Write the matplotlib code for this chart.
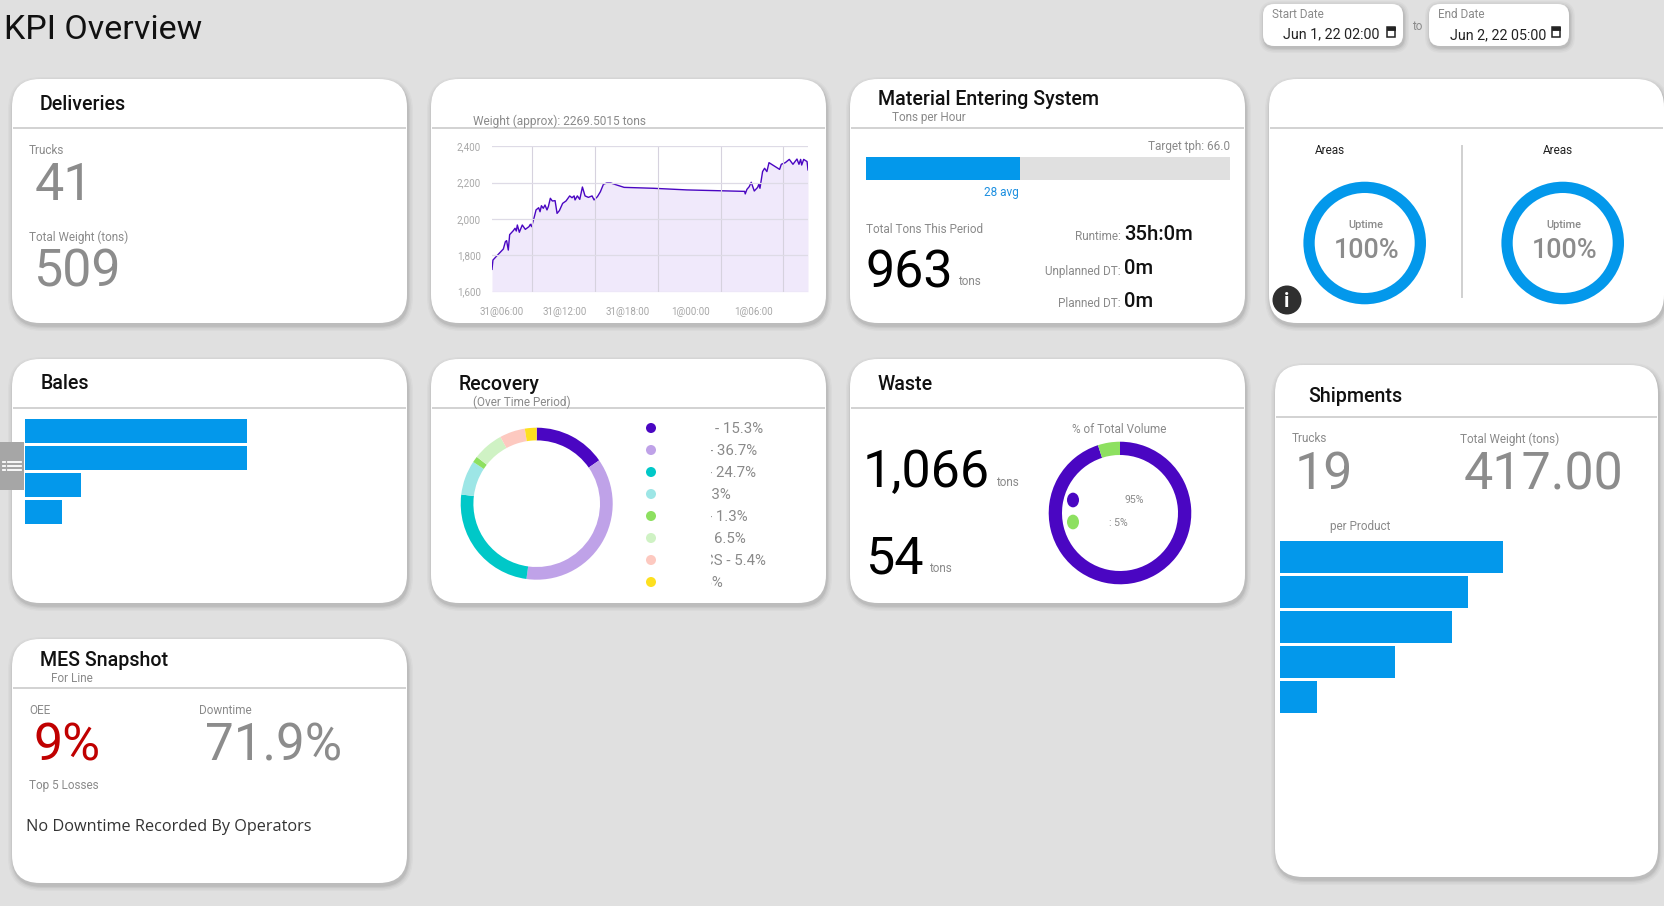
import matplotlib
matplotlib.use("Agg")
import matplotlib.pyplot as plt
from matplotlib.patches import FancyBboxPatch, Rectangle, Circle, Ellipse

W, H = 1664, 906
BG = "#e0e0e0"
BLUE = "#0398eb"
PURPLE = "#4a06c2"
GREY = "#8c8c8c"
LABEL = "#8a8a8a"
plt.rcParams["font.family"] = ["Roboto", "DejaVu Sans"]

# weight over time, hours after 31@06:00
weight_hours = [-0.92, -0.83, -0.48, 0.16, 0.35, 0.47, 0.63, 0.76, 1.11, 1.27, 1.39, 1.49, 1.68, 1.96, 2.25,
                2.6, 2.73, 2.85, 3.11, 3.27, 3.52, 3.65, 3.78, 3.96, 4.12, 4.31, 4.44, 4.63, 4.82, 5.08,
                5.27, 5.49, 5.8, 6.12, 6.47, 6.69, 6.89, 6.98, 7.2, 7.43, 7.68, 7.93, 8.25, 8.6, 8.79,
                9.11, 9.39, 9.68, 10.0, 10.38, 10.95, 11.65, 14.44, 17.62, 23.11, 23.17, 23.33, 23.55, 23.74,
                24.03, 24.35, 24.47, 24.57, 24.82, 25.01, 25.23, 25.43, 26.44, 26.6, 26.98, 27.36, 27.71,
                28.09, 28.28, 28.44, 28.54, 28.73, 29.05, 29.14]
weight_tons = [1723, 1774, 1796, 1835, 1875, 1881, 1829, 1914, 1936, 1949, 1934, 1967, 1927, 1967, 1943,
               1958, 1971, 1958, 2013, 2050, 2062, 2040, 2073, 2059, 2077, 2050, 2068, 2114, 2099, 2101,
               2031, 2046, 2086, 2099, 2127, 2117, 2127, 2105, 2127, 2108, 2176, 2127, 2119, 2127, 2105,
               2123, 2150, 2191, 2198, 2198, 2187, 2174, 2169, 2160, 2152, 2138, 2163, 2178, 2202,
               2154, 2174, 2193, 2169, 2261, 2279, 2261, 2310, 2273, 2301, 2310, 2328, 2301,
               2330, 2301, 2328, 2297, 2328, 2316, 2270]
weight_yticks = [1600, 1800, 2000, 2200, 2400]
weight_xticks = [0, 6, 12, 18, 24]
weight_xlabels = ["31@06:00", "31@12:00", "31@18:00", "1@00:00", "1@06:00"]
weight_grid_x = [2.9, 8.9, 14.9, 20.9, 26.8]

tph_avg = 28
tph_target = 66.0

bales_values = [120, 120, 30.3, 20]
shipment_values = [126.5, 106.7, 97.6, 65.2, 21.0]

recovery_values = [15.3, 36.7, 24.7, 7.3, 1.3, 6.5, 5.4, 2.5]
recovery_labels = ["- 15.3%", "- 36.7%", "- 24.7%", "7.3%", "- 1.3%", "6.5%", "CS - 5.4%", "2.5%"]
recovery_colors = ["#4a06c2", "#bfa2e8", "#00c8c8", "#9de6e6", "#8de060", "#cff2c4", "#fdc9c0", "#fde01f"]
recovery_right = [763, 757, 756, 731, 748, 746, 766, 723]

waste_values = [95, 5]
waste_colors = [PURPLE, "#8de060"]
uptime_values = [100]


fig = plt.figure(figsize=(W / 100, H / 100), dpi=100, facecolor=BG)


def overlay(z):
    a = fig.add_axes([0, 0, 1, 1], zorder=z)
    a.set_xlim(0, W)
    a.set_ylim(H, 0)
    a.axis("off")
    return a


def inset(x0, y0, x1, y1):
    a = fig.add_axes([x0 / W, 1 - y1 / H, (x1 - x0) / W, (y1 - y0) / H], zorder=1)
    a.patch.set_alpha(0)
    return a


bg = overlay(0)
fg = overlay(2)


def txt(x, y, s, px, color=LABEL, ha="left", **kw):
    # va center sits high because of the descender box, push it back down
    return fg.text(x, y + px * 0.08, s, fontsize=px * 0.72, color=color, ha=ha, va="center", **kw)


def rounded(x0, y0, x1, y1, r, lift=3):
    for grow, alpha in [(5, 0.025), (3.5, 0.035), (2, 0.045), (0.8, 0.06)]:
        bg.add_patch(FancyBboxPatch((x0 - grow + 1, y0 - grow + lift), x1 - x0 + 2 * grow, y1 - y0 + 2 * grow,
                                    boxstyle=f"round,pad=0,rounding_size={r + grow}",
                                    fc="black", ec="none", alpha=alpha))
    bg.add_patch(FancyBboxPatch((x0, y0), x1 - x0, y1 - y0, boxstyle=f"round,pad=0,rounding_size={r}",
                                fc="white", ec="none"))


def card(x0, y0, x1, y1, line_y):
    rounded(x0, y0, x1, y1, 28)
    bg.plot([x0 + 1, x1 - 1], [line_y, line_y], color="#cfcfcf", lw=1.3, solid_capstyle="butt")


def donut(cx, cy, r_out, r_in, values, colors):
    a = inset(cx - r_out, cy - r_out, cx + r_out, cy + r_out)
    a.pie(values, colors=colors, startangle=90, counterclock=False, radius=1,
          wedgeprops=dict(width=(r_out - r_in) / r_out, linewidth=0))
    a.set_xlim(-1, 1)
    a.set_ylim(-1, 1)


def hbars(x0, y0, width_px, values, px_per_unit, bar_h, pitch):
    n = len(values)
    a = inset(x0, y0, x0 + width_px, y0 + (n - 1) * pitch + bar_h)
    half = bar_h / pitch / 2
    a.barh(range(n), values, height=bar_h / pitch, color=BLUE)
    a.set_xlim(0, width_px / px_per_unit)
    a.set_ylim(n - 1 + half, -half)
    a.axis("off")


card(12, 79, 407, 323, 128)
card(431, 79, 826, 323, 128)
card(850, 79, 1245, 323, 128)
card(1269, 79, 1664, 323, 128)
card(12, 359, 407, 603, 408)
card(431, 359, 826, 603, 408)
card(850, 359, 1245, 603, 408)
card(1275, 365, 1658, 877, 417)
card(12, 639, 407, 883, 688)

TITLE_PX = 19.6
NUM_PX = 52
LABEL_PX = 11.7

# header
txt(4, 27, "KPI Overview", 34, "#111111")
rounded(1263, 4, 1403, 46, 11, lift=2)
rounded(1429, 4, 1569, 46, 11, lift=2)
txt(1272, 14, "Start Date", LABEL_PX)
txt(1283, 33, "Jun 1, 22 02:00", 14.3, "#222222")
txt(1417, 26, "to", LABEL_PX, ha="center")
txt(1438, 14, "End Date", LABEL_PX)
txt(1450, 34, "Jun 2, 22 05:00", 14.3, "#222222")
for ix, iy in [(1391, 32), (1556, 32)]:
    fg.add_patch(Rectangle((ix - 4, iy - 5), 8, 10, fc="white", ec="#222222", lw=1.1))
    fg.add_patch(Rectangle((ix - 4, iy - 5), 8, 2.5, fc="#222222", ec="#222222", lw=0.6))

# deliveries
txt(40, 103, "Deliveries", TITLE_PX, "#111111", weight="medium")
txt(29, 150, "Trucks", LABEL_PX)
txt(35, 182, "41", NUM_PX, GREY)
txt(29, 236, "Total Weight (tons)", LABEL_PX)
txt(33, 268, "509", NUM_PX, GREY)

# weight chart
txt(473, 120, "Weight (approx): 2269.5015 tons", LABEL_PX + 0.2)
ax = inset(492, 146.3, 808, 291.7)
ax.fill_between(weight_hours, weight_tons, 1600, color="#f0e9fb", lw=0)
ax.plot(weight_hours, weight_tons, color=PURPLE, lw=1.0)
ax.set_xlim(-0.92, 29.14)
ax.set_ylim(1600, 2400)
ax.set_yticks(weight_yticks)
ax.set_yticklabels([f"{v:,}" for v in weight_yticks])
ax.set_xticks(weight_xticks)
ax.set_xticklabels(weight_xlabels)
ax.set_xticks(weight_grid_x, minor=True)
ax.tick_params(axis="both", which="both", length=0, labelsize=7.1, labelcolor="#a8a8a8")
ax.tick_params(axis="x", pad=11)
ax.tick_params(axis="y", pad=8)
ax.grid(axis="y", color="#dedbe6", lw=0.9)
ax.grid(axis="x", which="minor", color="#d6d2de", lw=0.8)
ax.set_axisbelow(False)
for s in ax.spines.values():
    s.set_visible(False)

# material entering system
txt(878, 98, "Material Entering System", TITLE_PX, "#111111", weight="medium")
txt(892, 117, "Tons per Hour", LABEL_PX)
txt(1230, 146, f"Target tph: {tph_target:.1f}", LABEL_PX, ha="right")
ax = inset(866, 157, 1230, 180)
ax.barh([0], [tph_target], height=1, color="#e0e0e0")
ax.barh([0], [tph_avg], height=1, color=BLUE)
ax.set_xlim(0, tph_target)
ax.set_ylim(-0.5, 0.5)
ax.axis("off")
txt(1019, 192, f"{tph_avg} avg", LABEL_PX, "#1c8fe0", ha="right")
txt(866, 229, "Total Tons This Period", LABEL_PX)
txt(865, 269, "963", NUM_PX, "#000000")
txt(958, 281, "tons", LABEL_PX)
for y_lab, y_val, lab, val in [(236, 233, "Runtime:", "35h:0m"), (271, 267, "Unplanned DT:", "0m"),
                               (303, 300, "Planned DT:", "0m")]:
    txt(1121, y_lab, lab, LABEL_PX, ha="right")
    txt(1124, y_val, val, 20.3, "#111111", weight="medium")

# uptime
for cx, lx in [(1364.7, 1330), (1562.7, 1558)]:
    txt(lx, 150, "Areas", LABEL_PX, "#222222", ha="center")
    donut(cx, 243, 61.3, 50, uptime_values, [BLUE])
    txt(cx + 1.5, 224, "Uptime", 11, ha="center", weight="medium")
    txt(cx + 1.5, 248, "100%", 27, GREY, ha="center", weight="medium")
fg.plot([1462, 1462], [146, 297], color="#d0d0d0", lw=1.4)
fg.add_patch(Circle((1287, 300), 14.5, fc="#2f2f2f", ec="none"))
txt(1287, 300, "i", 20, "white", ha="center", weight="bold")

# bales
txt(41, 382, "Bales", TITLE_PX, "#111111", weight="medium")
hbars(25, 419, 300, bales_values, 1.85, 23.7, 27)
fg.add_patch(Rectangle((0, 442), 24, 48, fc="#a6a6a6", ec="none"))
for ly in [462, 466, 470]:
    fg.plot([8, 21], [ly, ly], color="white", lw=1.3)
    fg.plot([3, 5], [ly, ly], color="white", lw=1.3)

# recovery
txt(459, 383, "Recovery", TITLE_PX, "#111111", weight="medium")
txt(473, 401, "(Over Time Period)", LABEL_PX)
donut(536.7, 503.7, 76, 63.3, recovery_values, recovery_colors)
clip = Rectangle((711, 415), 100, 180, transform=fg.transData)
for i, (lab, col, rx) in enumerate(zip(recovery_labels, recovery_colors, recovery_right)):
    y = 428 + i * 22
    fg.add_patch(Circle((651, y), 5, fc=col, ec="none"))
    t = txt(rx, y, lab, 15, ha="right")
    t.set_clip_path(clip)
    t.set_clip_on(True)

# waste
txt(878, 383, "Waste", TITLE_PX, "#111111", weight="medium")
txt(1119, 429, "% of Total Volume", LABEL_PX, ha="center")
txt(863, 469, "1,066", NUM_PX, "#000000")
txt(996, 482, "tons", LABEL_PX)
txt(865, 555, "54", NUM_PX, "#000000")
txt(929, 568, "tons", LABEL_PX)
donut(1120, 513, 71.3, 58, waste_values, waste_colors)
fg.add_patch(Ellipse((1073, 500), 12, 14.7, fc=PURPLE, ec="none"))
fg.add_patch(Ellipse((1073, 522), 12, 14.7, fc=waste_colors[1], ec="none"))
txt(1134, 499, "95%", 10.5, ha="center")
txt(1118, 522, ": 5%", 10.5, ha="center")

# shipments
txt(1308, 395, "Shipments", TITLE_PX, "#111111", weight="medium")
txt(1292, 438, "Trucks", LABEL_PX)
txt(1295, 471, "19", NUM_PX, GREY)
txt(1460, 438, "Total Weight (tons)", LABEL_PX)
txt(1464, 471, "417.00", NUM_PX, GREY)
txt(1330, 526, "per Product", LABEL_PX)
hbars(1280, 541, 300, shipment_values, 1.763, 31.7, 35)

# mes snapshot
txt(40, 659, "MES Snapshot", TITLE_PX, "#111111", weight="medium")
txt(51, 678, "For Line", LABEL_PX)
txt(29, 710, "OEE", LABEL_PX)
txt(199, 710, "Downtime", LABEL_PX)
txt(34, 742, "9%", NUM_PX, "#c00000")
txt(205, 742, "71.9%", 51, GREY)
txt(29, 785, "Top 5 Losses", LABEL_PX)
txt(26, 826, "No Downtime Recorded By Operators", 16.2, "#333333", family=["Open Sans", "DejaVu Sans"])

fig.savefig("out.png", dpi=100, facecolor=BG)
